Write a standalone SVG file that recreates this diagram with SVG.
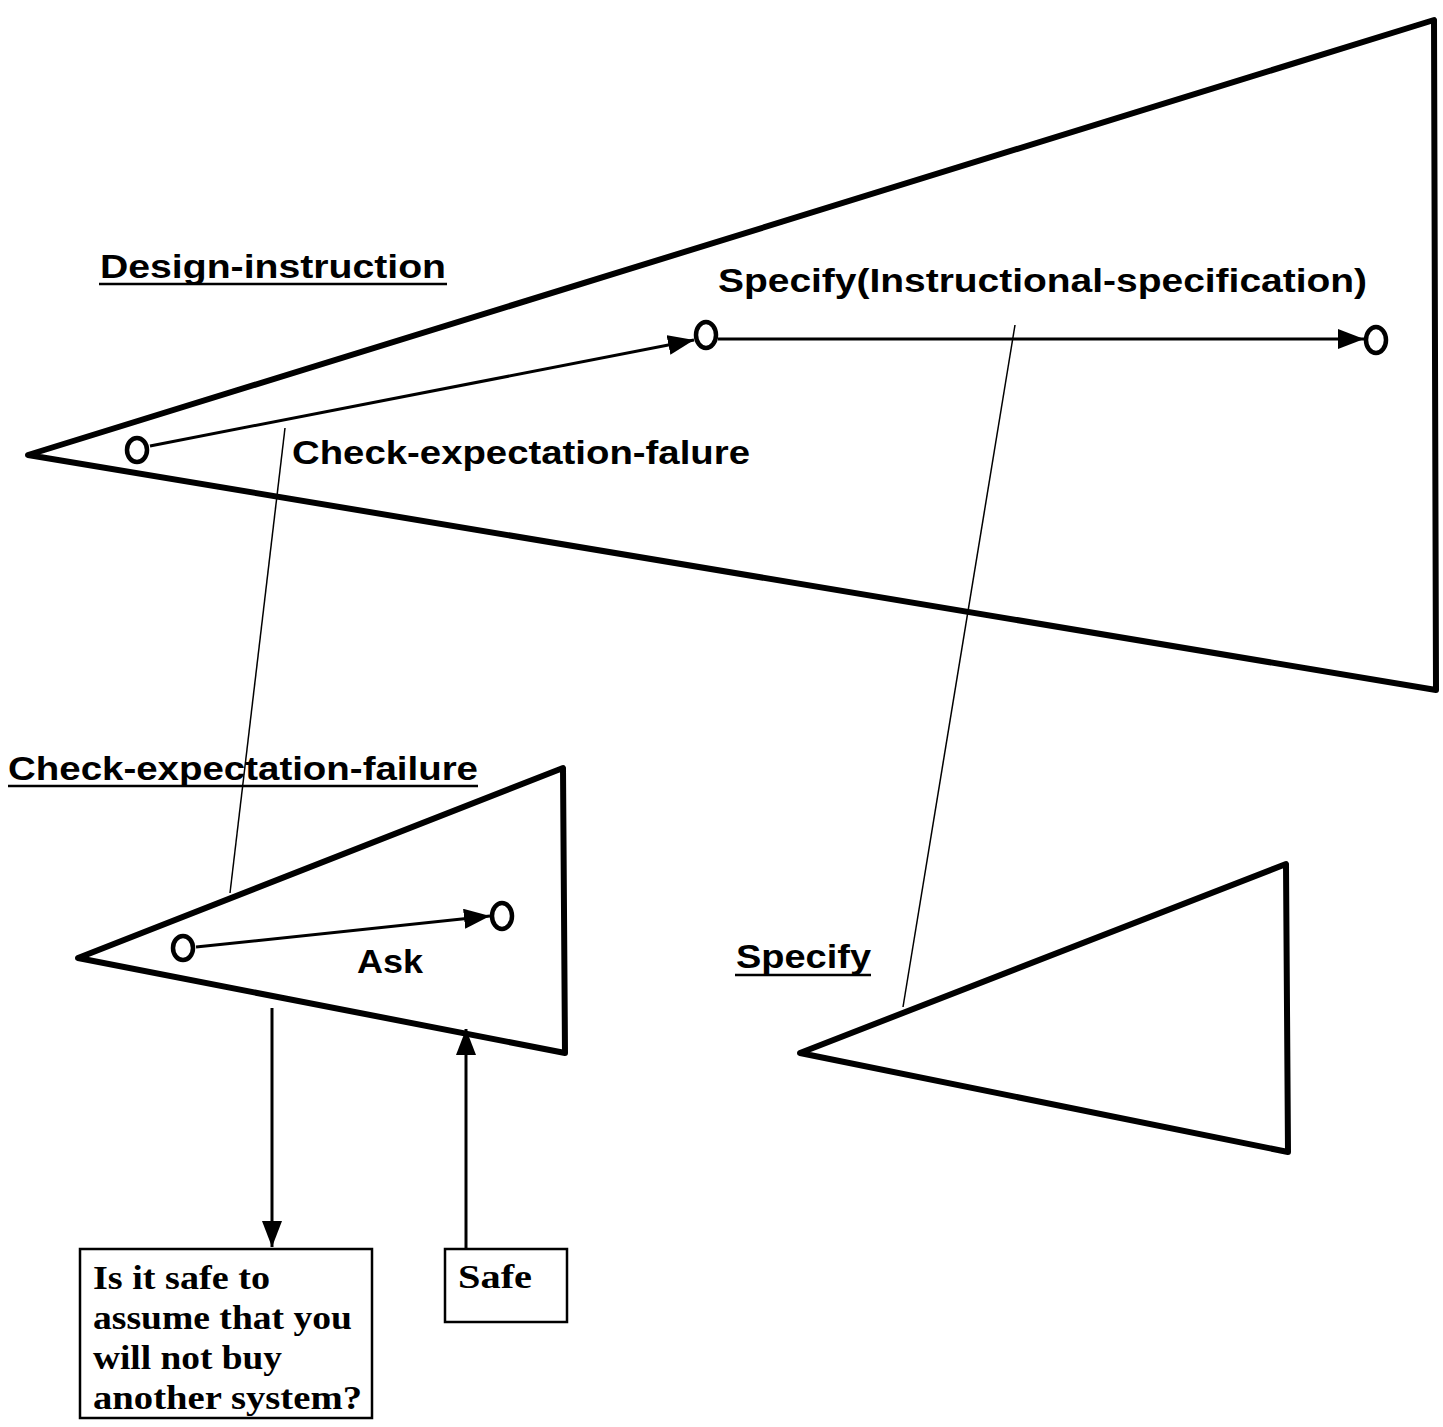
<svg xmlns="http://www.w3.org/2000/svg" width="1443" height="1427" viewBox="0 0 1443 1427">
<style>
.tri{fill:none;stroke:#000;stroke-width:6;stroke-linejoin:round}
.node{fill:#fff;stroke:#000;stroke-width:4.5}
.arr{fill:none;stroke:#000;stroke-width:3}
.thin{fill:none;stroke:#000;stroke-width:1.5}
.sans{font-family:"Liberation Sans",Arial,sans-serif;font-weight:bold;font-size:34px;fill:#000}
.serif{font-family:"Liberation Serif","Times New Roman",serif;font-weight:bold;font-size:34px;fill:#000}
.box{fill:#fff;stroke:#000;stroke-width:2.5}
.ul{stroke:#000;stroke-width:2.5}
</style>
<defs>
<marker id="ah" markerUnits="userSpaceOnUse" markerWidth="28" markerHeight="22" refX="26" refY="10" orient="auto">
<path d="M0,0 L26,10 L0,20 Z" fill="#000"/>
</marker>
</defs>
<rect width="1443" height="1427" fill="#fff"/>

<g id="design-instruction">
<polygon class="tri" points="28,455 1434,20 1436,690"/>
<text class="sans" x="100" y="278" textLength="346" lengthAdjust="spacingAndGlyphs">Design-instruction</text>
<line class="ul" x1="99" y1="284" x2="447" y2="284"/>
<text class="sans" x="292" y="464" textLength="458" lengthAdjust="spacingAndGlyphs">Check-expectation-falure</text>
<text class="sans" x="718" y="292" textLength="649" lengthAdjust="spacingAndGlyphs">Specify(Instructional-specification)</text>
</g>

<g id="check-expectation-failure">
<polygon class="tri" points="78,958 563,768 565,1053"/>
<text class="sans" x="8" y="780" textLength="470" lengthAdjust="spacingAndGlyphs">Check-expectation-failure</text>
<line class="ul" x1="8" y1="786" x2="478" y2="786"/>
<text class="sans" x="357" y="973" textLength="66" lengthAdjust="spacingAndGlyphs">Ask</text>
</g>

<g id="specify">
<polygon class="tri" points="800,1053 1286,864 1288,1152"/>
<text class="sans" x="736" y="968" textLength="135" lengthAdjust="spacingAndGlyphs">Specify</text>
<line class="ul" x1="735" y1="975" x2="871" y2="975"/>
</g>

<g id="question-box">
<rect class="box" x="80" y="1249" width="292" height="169"/>
<text class="serif" x="93" y="1289" textLength="177" lengthAdjust="spacingAndGlyphs">Is it safe to</text>
<text class="serif" x="93" y="1329" textLength="259" lengthAdjust="spacingAndGlyphs">assume that you</text>
<text class="serif" x="93" y="1369" textLength="189" lengthAdjust="spacingAndGlyphs">will not buy</text>
<text class="serif" x="93" y="1409" textLength="269" lengthAdjust="spacingAndGlyphs">another system?</text>
</g>

<g id="safe-box">
<rect class="box" x="445" y="1249" width="122" height="73"/>
<text class="serif" x="458" y="1288" textLength="74" lengthAdjust="spacingAndGlyphs">Safe</text>
</g>

<g id="connectors">
<line class="arr" x1="150" y1="446" x2="694" y2="340" marker-end="url(#ah)"/>
<line class="arr" x1="718" y1="339" x2="1364" y2="339" marker-end="url(#ah)"/>
<line class="arr" x1="196" y1="947" x2="490" y2="916" marker-end="url(#ah)"/>
<line class="arr" x1="272" y1="1008" x2="272" y2="1247" marker-end="url(#ah)"/>
<line class="arr" x1="466" y1="1248" x2="466" y2="1029" marker-end="url(#ah)"/>
<line class="thin" x1="285" y1="428" x2="230" y2="893"/>
<line class="thin" x1="1015" y1="325" x2="903" y2="1007"/>
</g>

<g id="states">
<ellipse class="node" cx="137" cy="450" rx="10" ry="12"/>
<ellipse class="node" cx="706" cy="335" rx="10" ry="13"/>
<ellipse class="node" cx="1376" cy="340" rx="10" ry="13"/>
<ellipse class="node" cx="183" cy="948" rx="10" ry="12"/>
<ellipse class="node" cx="502" cy="916" rx="10" ry="13"/>
</g>
</svg>
